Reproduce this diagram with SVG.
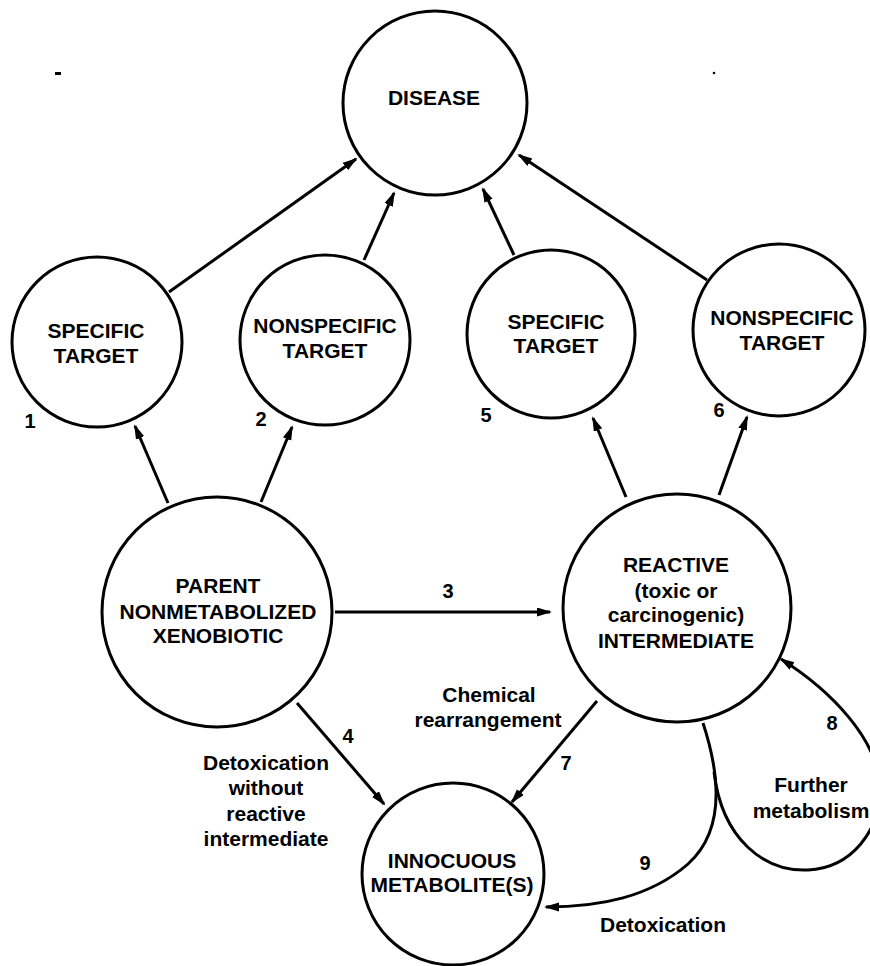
<svg xmlns="http://www.w3.org/2000/svg" width="870" height="966" viewBox="0 0 870 966">
<style>
.node{fill:#fff;stroke:#000;stroke-width:3}
.lbl{font-family:"Liberation Sans",Arial,sans-serif;font-weight:bold;font-size:21px;fill:#000;text-anchor:middle}
.num{font-family:"Liberation Sans",Arial,sans-serif;font-weight:bold;font-size:20px;fill:#000;text-anchor:middle}
.edge{fill:none;stroke:#000;stroke-width:3;marker-end:url(#ah)}
</style>
<defs>
<marker id="ah" markerUnits="userSpaceOnUse" markerWidth="16" markerHeight="10" refX="13" refY="4.5" orient="auto">
<path d="M0,0 L15,4.5 L0,9 z" fill="#000"/>
</marker>
</defs>
<rect width="870" height="966" fill="#fff"/>
<g id="artifacts">
<rect x="55" y="72" width="6" height="3" fill="#000"/>
<circle cx="714" cy="73" r="1.3" fill="#000"/>
</g>
<g id="connectors">
<line class="edge" x1="169" y1="292" x2="356" y2="159"/>
<line class="edge" x1="364" y1="260" x2="394" y2="193"/>
<line class="edge" x1="514" y1="255" x2="483" y2="189"/>
<line class="edge" x1="707" y1="280" x2="519" y2="155"/>
<line class="edge" x1="168" y1="503" x2="135" y2="426"/>
<line class="edge" x1="261" y1="502" x2="292" y2="427"/>
<line class="edge" x1="626" y1="497" x2="593" y2="418"/>
<line class="edge" x1="719" y1="495" x2="747" y2="417"/>
<line class="edge" x1="335" y1="612" x2="550" y2="612"/>
<line class="edge" x1="297" y1="703" x2="384" y2="804"/>
<line class="edge" x1="597" y1="701" x2="512" y2="802"/>
<path class="edge" d="M703,723 C720,775 726,830 688,864 C650,897 600,907 546,907"/>
<path class="edge" d="M714,772 C722,840 765,872 808,870 C852,868 880,830 880,790 C880,740 830,690 781,659"/>
</g>
<g id="disease">
<circle class="node" cx="435" cy="103" r="92"/>
<text class="lbl" x="434" y="105">DISEASE</text>
</g>
<g id="specific-target-1">
<circle class="node" cx="97" cy="342" r="85"/>
<text class="lbl" x="96" y="338">SPECIFIC</text>
<text class="lbl" x="96" y="363">TARGET</text>
</g>
<g id="nonspecific-target-2">
<circle class="node" cx="325" cy="340" r="85"/>
<text class="lbl" x="325" y="333">NONSPECIFIC</text>
<text class="lbl" x="325" y="358">TARGET</text>
</g>
<g id="specific-target-5">
<circle class="node" cx="551" cy="334" r="84"/>
<text class="lbl" x="556" y="329">SPECIFIC</text>
<text class="lbl" x="556" y="353">TARGET</text>
</g>
<g id="nonspecific-target-6">
<circle class="node" cx="779" cy="330" r="86"/>
<text class="lbl" x="782" y="325">NONSPECIFIC</text>
<text class="lbl" x="782" y="350">TARGET</text>
</g>
<g id="parent">
<circle class="node" cx="217" cy="612" r="115"/>
<text class="lbl" x="218" y="593">PARENT</text>
<text class="lbl" x="218" y="619">NONMETABOLIZED</text>
<text class="lbl" x="218" y="643">XENOBIOTIC</text>
</g>
<g id="reactive">
<circle class="node" cx="677" cy="608" r="114"/>
<text class="lbl" x="676" y="572">REACTIVE</text>
<text class="lbl" x="676" y="598">(toxic or</text>
<text class="lbl" x="676" y="622">carcinogenic)</text>
<text class="lbl" x="676" y="648">INTERMEDIATE</text>
</g>
<g id="innocuous">
<circle class="node" cx="453" cy="874" r="91"/>
<text class="lbl" x="452" y="868">INNOCUOUS</text>
<text class="lbl" x="452" y="892">METABOLITE(S)</text>
</g>
<g id="labels">
<text class="num" x="30" y="428">1</text>
<text class="num" x="261" y="426">2</text>
<text class="num" x="448" y="598">3</text>
<text class="num" x="348" y="743">4</text>
<text class="num" x="486" y="422">5</text>
<text class="num" x="719" y="417">6</text>
<text class="num" x="566" y="770">7</text>
<text class="num" x="832" y="730">8</text>
<text class="num" x="645" y="870">9</text>
<text class="lbl" x="266" y="770">Detoxication</text>
<text class="lbl" x="266" y="795">without</text>
<text class="lbl" x="266" y="821">reactive</text>
<text class="lbl" x="266" y="846">intermediate</text>
<text class="lbl" x="489" y="702">Chemical</text>
<text class="lbl" x="488" y="727">rearrangement</text>
<text class="lbl" x="811" y="792">Further</text>
<text class="lbl" x="811" y="818">metabolism</text>
<text class="lbl" x="663" y="932">Detoxication</text>
</g>
</svg>
